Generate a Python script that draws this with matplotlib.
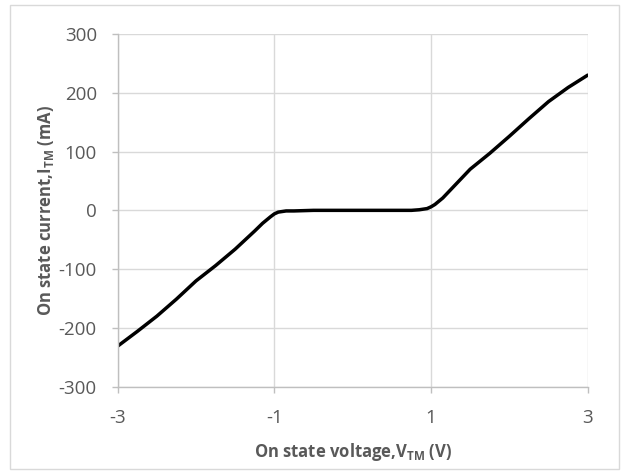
import matplotlib
matplotlib.use('Agg')
import matplotlib.pyplot as plt
from matplotlib.patches import Rectangle

# On state voltage (V) and current (mA)
voltage = [-3.0, -2.75, -2.5, -2.25, -2.0, -1.75, -1.5, -1.25, -1.15, -1.05, -1.0, -0.95,
           -0.85, -0.75, -0.5, -0.25, 0.0, 0.25, 0.5, 0.75, 0.85, 0.95, 1.0, 1.05, 1.15,
           1.25, 1.5, 1.75, 2.0, 2.25, 2.5, 2.75, 3.0]
current = [-231, -206, -180, -151, -120, -94, -66, -35, -22, -11, -6, -3,
           -1, -1, 0, 0, 0, 0, 0, 0, 1, 3, 6, 10, 21,
           35, 70, 97, 126, 156, 185, 209, 230]

x_ticks = [-3, -1, 1, 3]
y_ticks = [-300, -200, -100, 0, 100, 200, 300]

plt.rcParams['font.family'] = ['Open Sans', 'DejaVu Sans']
plt.rcParams['axes.unicode_minus'] = False
plt.rcParams['mathtext.fontset'] = 'custom'
plt.rcParams['mathtext.rm'] = 'Open Sans:bold'
plt.rcParams['mathtext.default'] = 'rm'

txt_color = '#595959'
grid_color = '#d9d9d9'
axis_color = '#bfbfbf'

fig = plt.figure(figsize=(6.24, 4.71), dpi=100)
ax = fig.add_axes([0.1886, 0.179, 0.7532, 0.7488])

ax.plot(voltage, current, color='black', linewidth=2.5, solid_capstyle='round')

ax.set_xlim(-3, 3)
ax.set_ylim(-300, 300)
ax.set_xticks(x_ticks)
ax.set_yticks(y_ticks)
ax.grid(True, color=grid_color, linewidth=1.0)
ax.set_axisbelow(True)

for side in ['top', 'right']:
    ax.spines[side].set_visible(False)
for side in ['left', 'bottom']:
    ax.spines[side].set_color(axis_color)
    ax.spines[side].set_linewidth(1.0)

ax.tick_params(axis='both', colors=axis_color, labelcolor=txt_color, labelsize=13.5,
               length=4, width=1.0, direction='out')
ax.tick_params(axis='x', pad=12)
ax.tick_params(axis='y', pad=11)

ax.set_xlabel(r'On state voltage,V$_{TM}$ (V)', fontsize=12, fontweight='bold',
              color=txt_color, labelpad=10)
ax.set_ylabel(r'On state current,I$_{TM}$ (mA)', fontsize=12, fontweight='bold',
              color=txt_color, labelpad=2)

# light frame round the whole chart, like the Excel chart area
fig.patches.append(Rectangle((0.016, 0.004), 0.976, 0.985, transform=fig.transFigure,
                             fill=False, edgecolor=grid_color, linewidth=1.0))

fig.savefig('out.png', dpi=100)
